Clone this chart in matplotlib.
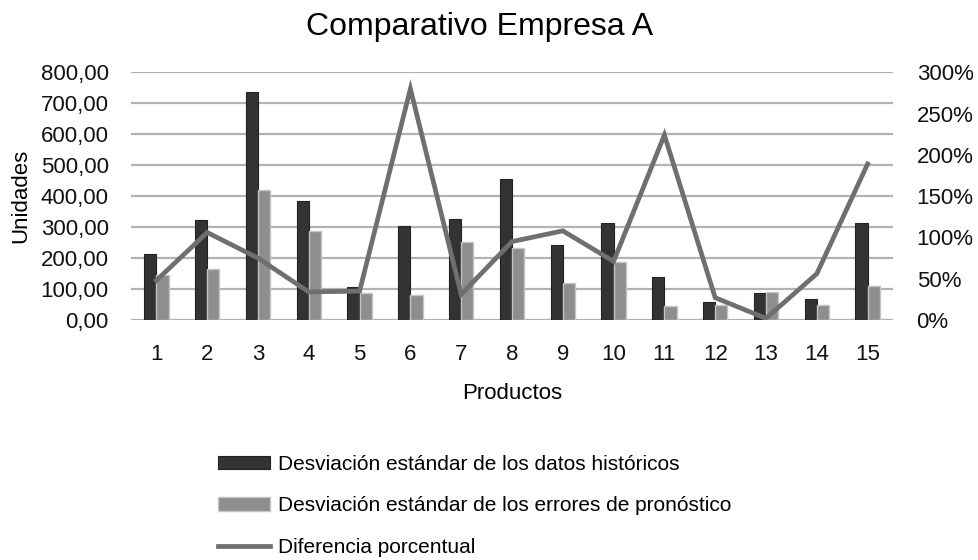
import matplotlib
matplotlib.use("Agg")
import matplotlib.pyplot as plt
from matplotlib.ticker import FuncFormatter, PercentFormatter
import numpy as np

plt.rcParams['font.family'] = ['Liberation Sans', 'DejaVu Sans']

# Data
productos = list(range(1, 16))
desv_historicos = [213, 323, 737, 385, 106, 304, 327, 455, 242, 312, 140, 57, 86, 67, 312]
desv_errores = [145, 164, 420, 289, 86, 81, 253, 234, 118, 188, 45, 50, 89, 48, 110]
diferencia_pct = [0.48, 1.06, 0.75, 0.34, 0.35, 2.80, 0.31, 0.95, 1.08, 0.71, 2.24, 0.27, 0.02, 0.56, 1.89]

title = "Comparativo Empresa A"
label_hist = "Desviación estándar de los datos históricos"
label_err = "Desviación estándar de los errores de pronóstico"
label_pct = "Diferencia porcentual"

fs = 16

fig = plt.figure(figsize=(9.79, 5.60), dpi=100)
ax = fig.add_axes([131/979, 1 - 320/560, 762/979, (320 - 72.3)/560])

x = np.array(productos, dtype=float)
w = 0.24
b1 = ax.bar(x - w/2, desv_historicos, width=w, color='#333333',
            edgecolor='#222222', linewidth=0.8, label=label_hist, zorder=2)
b2 = ax.bar(x + w/2, desv_errores, width=w, color='#8e8e8e',
            edgecolor='#c4c4c4', linewidth=1.0, label=label_err, zorder=2)

ax.set_xlim(0.5, 15.5)
ax.set_ylim(0, 800)
ax.set_yticks(np.arange(0, 801, 100))
ax.yaxis.set_major_formatter(FuncFormatter(lambda v, p: f"{v:.2f}".replace('.', ',')))
ax.set_xticks(productos)
ax.set_xticklabels([str(p) for p in productos])
ax.grid(axis='y', color='#b3b3b3', linewidth=1.6, zorder=0)
ax.set_axisbelow(True)
for s in ax.spines.values():
    s.set_visible(False)
ax.tick_params(axis='both', length=0, labelsize=fs, colors='#111111')
ax.tick_params(axis='y', pad=16)
ax.tick_params(axis='x', pad=17)
ax.set_xlabel("Productos", fontsize=fs, labelpad=13)
ax.set_ylabel("Unidades", fontsize=fs, labelpad=7)

ax2 = ax.twinx()
ln, = ax2.plot(x, diferencia_pct, color='#6f6f6f', linewidth=3.4,
               solid_joinstyle='miter', label=label_pct, zorder=3)
ax2.set_ylim(0, 3)
ax2.set_yticks(np.arange(0, 3.01, 0.5))
ax2.yaxis.set_major_formatter(PercentFormatter(xmax=1, decimals=0))
for s in ax2.spines.values():
    s.set_visible(False)
ax2.tick_params(axis='y', length=0, labelsize=fs, colors='#111111', pad=17)

fig.text(480/979, 1 - 27/560, title, ha='center', va='center', fontsize=23)

fig.legend(handles=[b1, b2, ln], labels=[label_hist, label_err, label_pct],
           loc='upper left', bbox_to_anchor=(199/979, 1 - 436/560),
           frameon=False, fontsize=15, labelspacing=1.08,
           handlelength=2.5, handleheight=0.6, handletextpad=0.4)

fig.savefig("out.png", dpi=100)
